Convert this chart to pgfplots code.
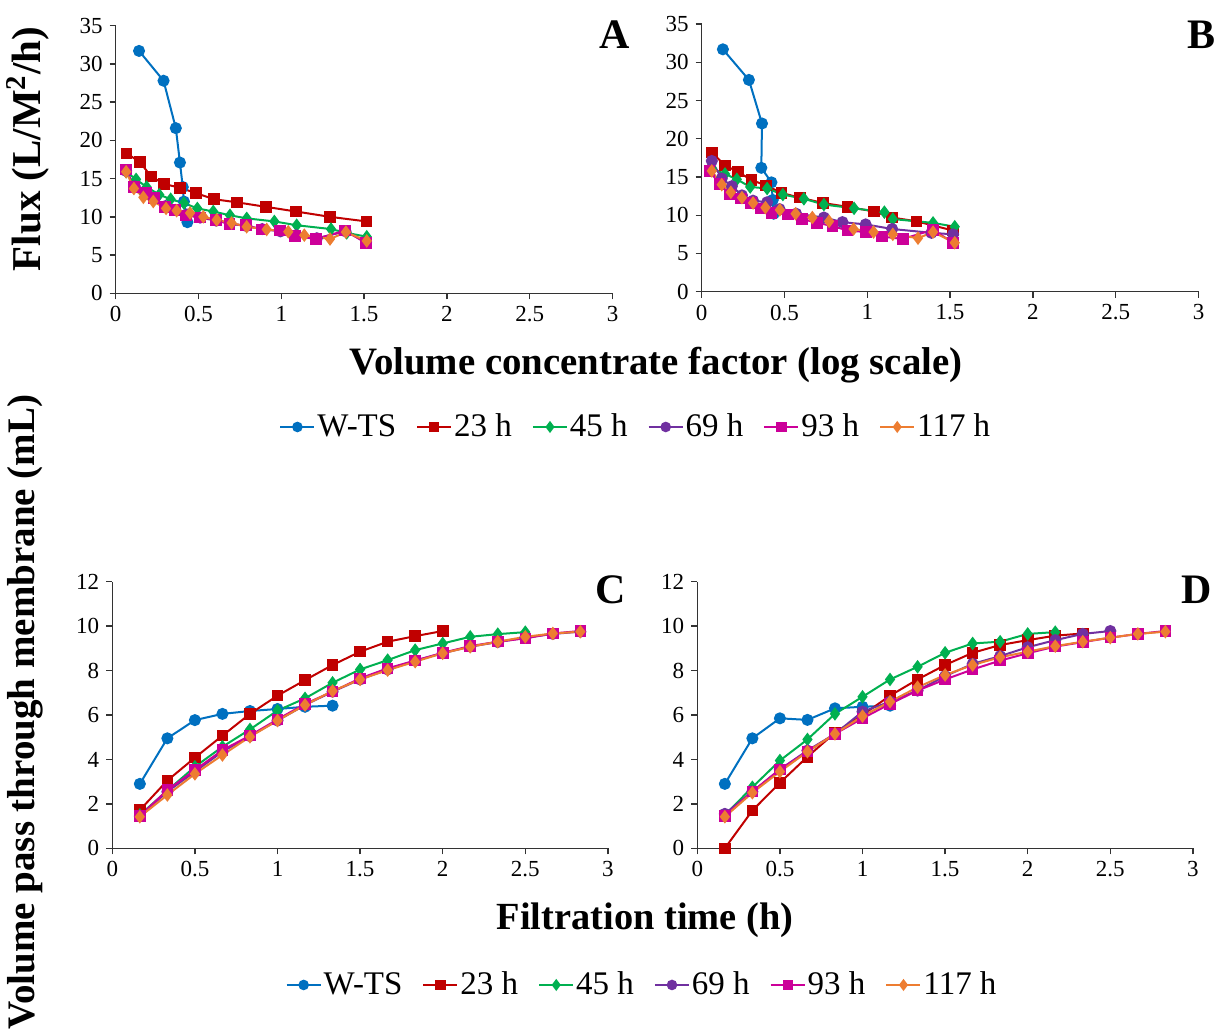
\documentclass[border=0pt]{standalone}
\usepackage{fontspec}
\setmainfont{Liberation Serif}
\usepackage{pgfplots}
\pgfplotsset{compat=1.18}

\newcommand{\fs}[1]{\fontsize{#1}{#1}\selectfont}

\definecolor{cBlue}{HTML}{0070C0}
\definecolor{cRed}{HTML}{C00000}
\definecolor{cGreen}{HTML}{00B050}
\definecolor{cPurple}{HTML}{7030A0}
\definecolor{cMag}{HTML}{CC0099}
\definecolor{cOrange}{HTML}{ED7D31}

\pgfplotsset{
  panel/.style={
    scale only axis,
    axis lines*=left,
    xmin=0, xmax=3,
    xtick={0,0.5,1,1.5,2,2.5,3},
    tick align=outside,
    major tick length=3pt,
    axis line style={black!80, line width=0.7pt},
    every tick/.style={black!80, line width=0.7pt},
    tick label style={font=\fs{11.5}, black},
    /pgf/number format/assume math mode=true,
    clip=false,
    legend image code/.code={
      \draw[mark repeat=2, mark phase=2, #1, /tikz/every mark/.append style={scale=0.85}]
        plot coordinates {(0pt,0pt) (8.5pt,0pt) (17pt,0pt)};
    },
  },
  flux/.style={panel, width=248.4pt, height=133.8pt, ymin=0, ymax=35, ytick={0,5,...,35}},
  vol/.style={panel, width=247.8pt, height=133.3pt, ymin=0, ymax=12, ytick={0,2,...,12}},
  lgd/.style={legend columns=6,
    legend style={draw=none, fill=none, font=\fs{16.5}, anchor=center,
      /tikz/every even column/.append style={column sep=9pt},
      nodes={inner sep=1pt}}},
  wts/.style={color=cBlue, line width=1pt, mark=*, mark size=2.5pt, mark options={solid}},
  r23/.style={color=cRed, line width=1pt, mark=square*, mark size=2.4pt, mark options={solid}},
  g45/.style={color=cGreen, line width=1pt, mark=diamond*, mark size=2.6pt, mark options={solid}},
  p69/.style={color=cPurple, line width=1pt, mark=*, mark size=2.5pt, mark options={solid}},
  m93/.style={color=cMag, line width=1pt, mark=square*, mark size=2.4pt, mark options={solid}},
  o117/.style={color=cOrange, line width=1pt, mark=diamond*, mark size=2.6pt, mark options={solid}},
}

\begin{document}
\begin{tikzpicture}

% ---------- A: flux vs volume concentrate factor ----------
\begin{axis}[flux, at={(57.85pt,369.85pt)}, anchor=south west, lgd,
  legend style={at={(1.047,-0.4996)}}]
\addplot[wts] coordinates {(0.141,31.7) (0.289,27.8) (0.363,21.6) (0.388,17.1) (0.405,13.9) (0.412,12.0) (0.433,9.3)};
\addplot[r23] coordinates {(0.065,18.3) (0.145,17.2) (0.213,15.3) (0.292,14.3) (0.389,13.8) (0.485,13.1) (0.595,12.3) (0.732,11.9) (0.909,11.3) (1.088,10.7) (1.294,10.0) (1.514,9.4)};
\addplot[g45] coordinates {(0.063,15.9) (0.123,14.9) (0.187,13.9) (0.263,12.9) (0.332,12.3) (0.412,11.8) (0.493,11.1) (0.589,10.7) (0.690,10.2) (0.791,9.8) (0.958,9.4) (1.093,8.9) (1.300,8.4) (1.395,7.9) (1.516,7.4)};
\addplot[p69] coordinates {(0.063,16.0) (0.115,14.0) (0.180,13.0) (0.235,12.4) (0.300,11.4) (0.360,10.9) (0.430,10.3) (0.510,9.9) (0.607,9.5) (0.690,9.1) (0.789,8.8) (0.885,8.4) (0.995,8.1) (1.090,7.6) (1.215,7.2) (1.388,8.1) (1.512,6.7)};
\addplot[m93] coordinates {(0.063,16.2) (0.110,13.9) (0.183,13.1) (0.233,12.5) (0.298,11.3) (0.358,10.9) (0.425,10.2) (0.509,9.9) (0.606,9.6) (0.686,9.05) (0.787,8.9) (0.881,8.35) (0.992,8.2) (1.083,7.5) (1.210,7.1) (1.385,8.2) (1.510,6.6)};
\addplot[o117] coordinates {(0.063,15.9) (0.110,13.7) (0.167,12.55) (0.227,12.0) (0.304,11.1) (0.368,10.8) (0.449,10.5) (0.529,10.0) (0.610,9.6) (0.700,9.2) (0.791,8.7) (0.912,8.35) (1.042,8.05) (1.139,7.6) (1.294,7.1) (1.390,8.0) (1.516,6.85)};
\legend{W-TS, 23 h, 45 h, 69 h, 93 h, 117 h}
\end{axis}

% ---------- B ----------
\begin{axis}[flux, at={(350.85pt,370.65pt)}, anchor=south west]
\addplot[wts] coordinates {(0.128,31.7) (0.285,27.7) (0.364,22.0) (0.360,16.2) (0.421,14.3) (0.429,12.0) (0.435,10.2)};
\addplot[r23] coordinates {(0.063,18.2) (0.141,16.5) (0.218,15.7) (0.300,14.6) (0.389,13.9) (0.483,12.9) (0.593,12.3) (0.733,11.6) (0.880,11.1) (1.040,10.5) (1.149,9.7) (1.298,9.2) (1.518,8.0)};
\addplot[g45] coordinates {(0.061,16.1) (0.141,15.4) (0.212,14.7) (0.293,13.7) (0.395,13.5) (0.490,12.7) (0.617,12.15) (0.738,11.4) (0.920,10.9) (1.103,10.4) (1.154,9.5) (1.397,9.0) (1.528,8.5)};
\addplot[p69] coordinates {(0.061,17.1) (0.121,14.8) (0.182,13.8) (0.243,12.6) (0.310,11.9) (0.395,11.7) (0.470,10.8) (0.570,10.2) (0.738,9.7) (0.850,9.1) (0.990,8.8) (1.150,8.2) (1.387,7.7) (1.518,7.5)};
\addplot[m93] coordinates {(0.047,15.8) (0.107,14.1) (0.172,12.7) (0.237,12.2) (0.298,11.6) (0.358,10.9) (0.421,10.3) (0.522,10.1) (0.607,9.5) (0.698,9.0) (0.789,8.6) (0.881,8.0) (0.992,7.8) (1.089,7.2) (1.215,6.9) (1.397,8.1) (1.518,6.4)};
\addplot[o117] coordinates {(0.061,15.8) (0.121,14.0) (0.176,13.0) (0.243,12.3) (0.310,11.6) (0.385,11.0) (0.472,10.7) (0.567,10.2) (0.668,9.7) (0.769,9.2) (0.917,8.2) (1.038,7.8) (1.154,7.5) (1.306,7.0) (1.397,7.8) (1.528,6.4)};
\end{axis}

% ---------- C: filtrate volume vs time ----------
\begin{axis}[vol, at={(56.15pt,92.35pt)}, anchor=south west, lgd,
  legend style={at={(1.069,-0.5126)}}]
\addplot[wts] coordinates {(0.1667,2.9) (0.3333,4.95) (0.5,5.77) (0.6667,6.05) (0.8333,6.18) (1,6.27) (1.1667,6.37) (1.3333,6.42)};
\addplot[r23] coordinates {(0.1667,1.72) (0.3333,3.05) (0.5,4.08) (0.6667,5.07) (0.8333,6.05) (1,6.87) (1.1667,7.57) (1.3333,8.25) (1.5,8.85) (1.6667,9.3) (1.8333,9.55) (2,9.78)};
\addplot[g45] coordinates {(0.1667,1.5) (0.3333,2.6) (0.5,3.67) (0.6667,4.57) (0.8333,5.35) (1,6.2) (1.1667,6.75) (1.3333,7.45) (1.5,8.05) (1.6667,8.47) (1.8333,8.92) (2,9.22) (2.1667,9.52) (2.3333,9.64) (2.5,9.73)};
\addplot[p69] coordinates {(0.1667,1.45) (0.3333,2.55) (0.5,3.45) (0.6667,4.35) (0.8333,5.05) (1,5.75) (1.1667,6.45) (1.3333,7.05) (1.5,7.6) (1.6667,8.05) (1.8333,8.45) (2,8.78) (2.1667,9.08) (2.3333,9.28) (2.5,9.48) (2.6667,9.65) (2.8333,9.75)};
\addplot[m93] coordinates {(0.1667,1.45) (0.3333,2.62) (0.5,3.52) (0.6667,4.42) (0.8333,5.07) (1,5.8) (1.1667,6.5) (1.3333,7.05) (1.5,7.65) (1.6667,8.1) (1.8333,8.45) (2,8.8) (2.1667,9.1) (2.3333,9.3) (2.5,9.45) (2.6667,9.67) (2.8333,9.78)};
\addplot[o117] coordinates {(0.1667,1.42) (0.3333,2.4) (0.5,3.35) (0.6667,4.2) (0.8333,5.02) (1,5.75) (1.1667,6.45) (1.3333,7.08) (1.5,7.6) (1.6667,8.02) (1.8333,8.4) (2,8.78) (2.1667,9.07) (2.3333,9.3) (2.5,9.52) (2.6667,9.67) (2.8333,9.75)};
\legend{W-TS, 23 h, 45 h, 69 h, 93 h, 117 h}
\end{axis}

% ---------- D ----------
\begin{axis}[vol, at={(348.65pt,92.35pt)}, anchor=south west]
\addplot[wts] coordinates {(0.1667,2.9) (0.3333,4.95) (0.5,5.85) (0.6667,5.78) (0.8333,6.3) (1,6.37) (1.1667,6.42)};
\addplot[r23] coordinates {(0.1667,0.0) (0.3333,1.7) (0.5,2.95) (0.6667,4.12) (0.8333,5.2) (1,6.0) (1.1667,6.87) (1.3333,7.6) (1.5,8.25) (1.6667,8.8) (1.8333,9.15) (2,9.37) (2.1667,9.57) (2.3333,9.67)};
\addplot[g45] coordinates {(0.1667,1.5) (0.3333,2.75) (0.5,3.95) (0.6667,4.9) (0.8333,6.05) (1,6.82) (1.1667,7.6) (1.3333,8.17) (1.5,8.8) (1.6667,9.22) (1.8333,9.3) (2,9.65) (2.1667,9.73)};
\addplot[p69] coordinates {(0.1667,1.55) (0.3333,2.55) (0.5,3.55) (0.6667,4.4) (0.8333,5.15) (1,6.15) (1.1667,6.6) (1.3333,7.1) (1.5,7.75) (1.6667,8.3) (1.8333,8.65) (2,9.05) (2.1667,9.37) (2.3333,9.65) (2.5,9.78)};
\addplot[m93] coordinates {(0.1667,1.45) (0.3333,2.55) (0.5,3.55) (0.6667,4.35) (0.8333,5.15) (1,5.85) (1.1667,6.5) (1.3333,7.1) (1.5,7.6) (1.6667,8.05) (1.8333,8.45) (2,8.78) (2.1667,9.08) (2.3333,9.28) (2.5,9.48) (2.6667,9.65) (2.8333,9.78)};
\addplot[o117] coordinates {(0.1667,1.42) (0.3333,2.5) (0.5,3.45) (0.6667,4.35) (0.8333,5.15) (1,5.95) (1.1667,6.6) (1.3333,7.25) (1.5,7.8) (1.6667,8.25) (1.8333,8.6) (2,8.85) (2.1667,9.1) (2.3333,9.3) (2.5,9.48) (2.6667,9.65) (2.8333,9.75)};
\end{axis}

% shared axis titles and panel letters
\node[rotate=90, font=\fs{20.5}\bfseries] at (14pt,442pt) {Flux (L/M\textsuperscript{2}/h)};
\node[font=\fs{19.4}\bfseries] at (328pt,334pt) {Volume concentrate factor (log scale)};
\node[rotate=90, font=\fs{19.5}\bfseries] at (12.5pt,160.5pt) {Volume pass through membrane (mL)};
\node[font=\fs{19.2}\bfseries] at (322.5pt,56.5pt) {Filtration time (h)};
\node[font=\fs{21}\bfseries] at (307.5pt,499pt) {A};
\node[font=\fs{21}\bfseries] at (600.5pt,499pt) {B};
\node[font=\fs{21}\bfseries] at (305.5pt,221.5pt) {C};
\node[font=\fs{21}\bfseries] at (598.5pt,221.5pt) {D};

\pgfresetboundingbox
\path[use as bounding box] (0pt,0pt) rectangle (609.5pt,516.5pt);
\end{tikzpicture}
\end{document}
